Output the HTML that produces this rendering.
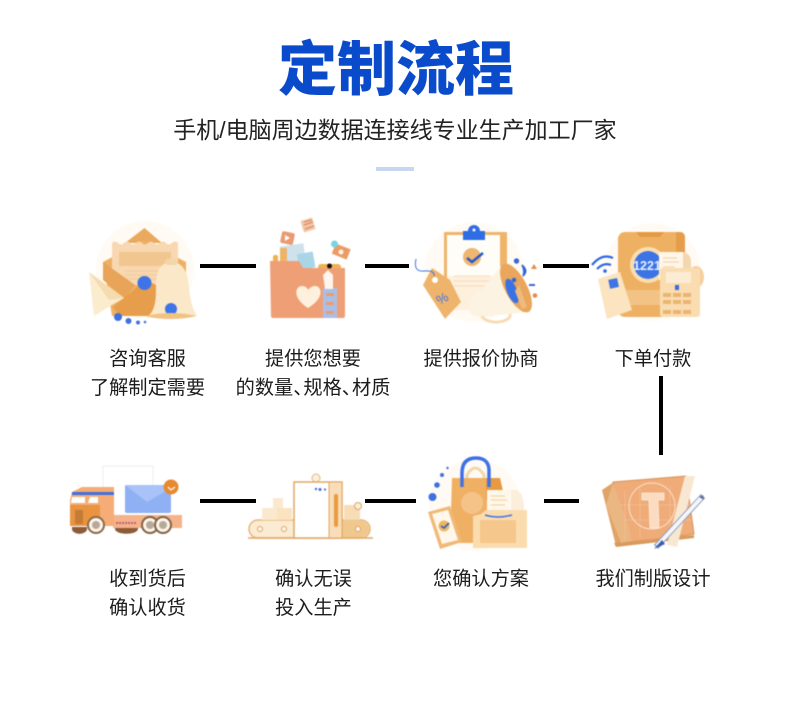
<!DOCTYPE html>
<html lang="zh"><head><meta charset="utf-8"><title>定制流程</title>
<style>
html,body{margin:0;padding:0;background:#fff;width:790px;height:703px;overflow:hidden}
svg{display:block}
text{font-family:"Liberation Sans","Noto Sans CJK SC",sans-serif}
.l{font-size:19.2px;fill:#1c1c1c;text-anchor:middle}
.i{filter:blur(.45px)}
</style></head><body>
<svg width="790" height="703" viewBox="0 0 790 703" xmlns="http://www.w3.org/2000/svg">
<rect width="790" height="703" fill="#fff"/>
<text x="396" y="90" text-anchor="middle" font-size="59" font-weight="900" fill="#0a4bcb">定制流程</text>
<text x="395" y="138" text-anchor="middle" font-size="23" fill="#222">手机/电脑周边数据连接线专业生产加工厂家</text>
<rect x="376" y="167" width="38" height="4" fill="#c8d6ef"/>

<g fill="#000">
<rect x="200" y="264" width="56" height="4"/><rect x="365" y="264" width="44" height="4"/><rect x="543" y="264" width="46" height="4"/>
<rect x="659" y="376" width="4" height="79"/>
<rect x="200" y="499" width="56" height="4"/><rect x="365" y="499" width="51" height="4"/><rect x="544" y="499" width="35" height="4"/>
</g>

<g class="i">
<!-- icon 1 -->
<circle cx="145" cy="270" r="49" fill="#fffbf4"/>
<path d="M125 243L144.500 228 162 243z" fill="#e9a95e"/>
<path d="M103 262L144 240 186 262V300L150 316H112z" fill="#eeb064"/>
<path d="M112 243q3-3 6 0t6 0 6 0 6 0 6 0 6 0 6 0 6 0 6 0 6 0 6 0V285H112z" fill="#f8d8b2"/>
<rect x="119" y="252" width="52" height="14" fill="#f1c78f"/>
<g stroke="#f2cda0" stroke-width="1.500"><path d="M125 271H160M125 275H160M125 279H160"/></g>
<path d="M103 262L135 285 125 298 103 280z" fill="#e8a458"/>
<path d="M113 307L146 280 186 300 150 316H120z" fill="#e69d4c"/>
<circle cx="144.500" cy="283" r="7" fill="#3e74e8"/>
<path d="M89 272L124 298 112 305 94 316z" fill="#fbeccd"/>
<path d="M89 272L124 298 109 300z" fill="#f5dcb0"/>
<path d="M147 317C160 308 154 285 157 275C159 266 165 262 171 262C180 262 186 268 188 280C190 295 191 308 197 315Q172 322 147 317z" fill="#fbe8c8"/>
<rect x="165" y="259" width="13" height="6" rx="3" fill="#f1d6ab"/>
<circle cx="171" cy="309" r="6" fill="#3e74e8"/>
<path d="M145 316Q171 310 197 316Q171 322 145 316Z" fill="#f0c383"/>
<g fill="#3f70df"><circle cx="118" cy="317" r="4"/><circle cx="128.500" cy="321" r="3"/><circle cx="138" cy="322.500" r="2"/><circle cx="145" cy="322" r="1.300"/></g>

<!-- icon 2 -->
<rect x="281" y="232" width="13" height="12" rx="2" fill="#e99b73" transform="rotate(12 287 238)"/>
<path d="M285 235l5 3-5 3z" fill="#fff"/>
<rect x="302" y="219" width="12" height="12" fill="#f2c7a6" transform="rotate(-17 308 225)"/>
<path d="M304 222l8-2M304 225l9-3M305 229l9-3" stroke="#d97f59" stroke-width="1"/>
<rect x="281" y="245" width="24" height="18" fill="#cfe2ec" transform="rotate(-8 292 256)"/>
<rect x="280" y="248" width="7" height="16" fill="#efb463"/>
<rect x="298" y="253" width="16" height="16" fill="#a9d5e7" transform="rotate(-10 305 260)"/>
<rect x="333" y="246" width="16" height="11" fill="#ec9b66" transform="rotate(22 341 252)"/>
<circle cx="341" cy="252" r="2.500" fill="#fff2e4"/>
<circle cx="334.500" cy="244" r="3.500" fill="#7bd3df"/>
<rect x="273" y="255" width="5" height="10" rx="2" fill="#efb24f"/>
<rect x="318" y="264" width="23" height="10" rx="3" fill="#efb24f"/>
<path d="M270 261H299L303 268H345V316Q345 318 343 318H273Q271 318 271 316z" fill="#ef9f76"/>
<path d="M308 308C292 298 295 286 302 286 306 286 308 289 308 290 309 289 311 286 315 286 322 286 325 298 308 308z" fill="#fdf0dd"/>
<rect x="323" y="288" width="14" height="30" fill="#a9bfe8"/>
<rect x="326" y="293" width="8" height="3" fill="#f09a6c"/><rect x="326" y="302" width="8" height="3" fill="#f09a6c"/><rect x="326" y="311" width="8" height="3" fill="#f09a6c"/>
<path d="M323 275L328 270 333 275 333 289H325z" fill="#fdf6ec"/>
<circle cx="329.500" cy="266" r="2.500" fill="#16120f"/>

<!-- icon 3 -->
<circle cx="474" cy="272" r="50" fill="#fffbf4"/>
<rect x="444" y="232" width="63" height="78" fill="#efb46a"/>
<rect x="447" y="235" width="53" height="75" fill="#fffdf8"/>
<rect x="447" y="276" width="53" height="34" fill="#fdf0dd"/>
<path d="M463 240V231H468a6 6 0 0 1 12 0H485V240z" fill="#2f6de4"/>
<circle cx="474" cy="230" r="1.500" fill="#fff"/>
<circle cx="472" cy="257" r="9" fill="#eeb671"/>
<path d="M467 258l5 4 11-9" fill="none" stroke="#2459cf" stroke-width="2.600"/>
<path d="M454 276H490M454 281H490M454 286H485" stroke="#f6dcba"/>
<path d="M432 268L423 285 445 319 461 302 450 280z" fill="#efb46b"/>
<circle cx="435" cy="280" r="3" fill="#fff"/>
<path d="M416 259Q413 272 424 271T434 276" fill="none" stroke="#3e74e8"/>
<text x="442" y="303" font-size="13" fill="#3e74e8" text-anchor="middle" transform="rotate(-28 442 298)">%</text>
<path d="M468 308Q470 295 480 292L502 265 530 312 490 316Q470 320 468 308z" fill="#fdf3e3"/>
<ellipse cx="516" cy="288" rx="11" ry="27" fill="#e9a65c" transform="rotate(-28 516 288)"/>
<ellipse cx="512" cy="291" rx="5" ry="13" fill="#3a72e4" transform="rotate(-22 512 291)"/>
<path d="M519 285l8 22-5 2-7-18z" fill="#edbb7e"/>
<path d="M482 316a14 7 0 0 0 28-2" fill="none" stroke="#f7dcb5" stroke-width="3"/>
<g fill="#3767d4"><circle cx="516.500" cy="261" r="2.700"/><circle cx="514" cy="280" r="2.300"/><path d="M522 265q7 6 1 11q2-5-1-11z" stroke="#3767d4" stroke-width="1.500"/><rect x="529" y="284" width="6" height="2"/></g>
<path d="M534 264l3 5h-6z" fill="#e28f4d"/><circle cx="535" cy="295.500" r="2.300" fill="#e58b4c"/>

<!-- icon 4 -->
<circle cx="652" cy="272" r="49" fill="#fffbf4"/>
<rect x="618" y="232" width="67" height="85" rx="7" fill="#eeb163"/>
<path d="M676 232H680Q685 232 685 238V310H676z" fill="#e69d4a"/>
<path d="M636 232H664L660 237H640z" fill="#e59a42"/>
<path d="M618 290H680V305H618z" fill="#f2c384"/>
<circle cx="648" cy="265" r="18" fill="#fbdeb0"/>
<circle cx="648" cy="265" r="14" fill="#3c74e6"/>
<text x="647" y="270" text-anchor="middle" font-size="12.500" font-weight="700" fill="#e8f0ff">1221</text>
<ellipse cx="696" cy="277" rx="8" ry="11" fill="#f6cf9b"/>
<path d="M682 252a9 9 0 0 1 9 9V272H682z" fill="#f3d7ae"/>
<path d="M659 252H683V280H659z" fill="#fff6e8"/>
<g stroke="#efd0a8"><path d="M663 258H677M663 262H679M663 267H675M663 271H679"/></g>
<rect x="660" y="268" width="40" height="49" rx="3" fill="#f9dcb0"/>
<rect x="666" y="272" width="25" height="11" fill="#fcecd4"/>
<rect x="675" y="285" width="4" height="5" fill="#3c6adb"/>
<g fill="#ebb570"><rect x="663" y="293" width="8" height="4"/><rect x="673" y="293" width="8" height="4"/><rect x="683" y="293" width="8" height="4"/><rect x="663" y="300" width="8" height="4"/><rect x="673" y="300" width="8" height="4"/><rect x="683" y="300" width="8" height="4"/><rect x="663" y="310" width="8" height="4"/><rect x="673" y="310" width="8" height="4"/><rect x="683" y="310" width="8" height="4"/></g>
<path d="M598 279L620 272 632 310 607 319z" fill="#fbe4bf"/>
<rect x="609" y="279" width="9" height="9" fill="#3f74e4" transform="rotate(-12 613 283)"/>
<g fill="none" stroke="#2f68de" stroke-width="2.200"><path d="M592 265Q602 253 613 258"/><path d="M597 269Q604 262 611 265"/></g>
<circle cx="605" cy="271" r="1.800" fill="#2f68de"/>

<!-- icon 5 truck -->
<rect x="103" y="466" width="50" height="42" fill="#fff" stroke="#f2eee8"/>
<rect x="113" y="515" width="69" height="13" fill="#f4b38a"/>
<path d="M82 487H114V526H70V500L72 492z" fill="#f5ac76"/>
<path d="M72 492H114V495H72z" fill="#3f6fe0"/>
<path d="M70 505H100V526H70z" fill="#ea9341"/>
<path d="M72 497H85V503H71z" fill="#fff"/><path d="M90 497H98V503H88z" fill="#fff"/>
<rect x="75" y="510" width="8" height="14" fill="#c47b35"/>
<rect x="114" y="484" width="12" height="31" fill="#fff"/>
<rect x="125" y="485" width="46" height="28" rx="2" fill="#8fb0f3"/>
<path d="M125 485L147 502 171 488V485z" fill="#a9c2f7"/>
<circle cx="171" cy="487" r="7.500" fill="#e78a2f"/>
<path d="M168 487l3 3 4-3" stroke="#fff" fill="none" stroke-width="1.200"/>
<path d="M116 523H137" stroke="#c25f7d" stroke-width="2" stroke-dasharray="2 1"/>
<path d="M72 527h15v2a7 4.500 0 0 1-15 0zM115 528h23v1a11 4.500 0 0 1-23 0z" fill="#8c5b37"/>
<g><circle cx="96" cy="525" r="8" fill="#fff4e8" stroke="#8a6a4a" stroke-width="2"/><circle cx="96" cy="525" r="4" fill="#b5a999"/><circle cx="150" cy="525" r="8" fill="#fff4e8" stroke="#7e6248" stroke-width="2"/><circle cx="150" cy="525" r="4" fill="#b5a999"/><circle cx="163" cy="525" r="8" fill="#fff4e8" stroke="#7e6248" stroke-width="2"/><circle cx="163" cy="525" r="4" fill="#b5a999"/></g>

<!-- icon 6 conveyor -->
<rect x="249" y="520" width="121" height="18" rx="9" fill="#fbebd2" stroke="#e6b67a" stroke-width="1.500"/>
<path d="M342 521H361a8 8 0 0 1 0 16H342z" fill="#f0c88e"/>
<path d="M248 538H373" stroke="#e2a866" stroke-width="1.500"/>
<g fill="#fff8ee" stroke="#dda565"><circle cx="260" cy="529" r="2.500"/><circle cx="284" cy="529" r="2.500"/><circle cx="358" cy="529" r="2.500"/></g>
<rect x="262" y="508" width="15" height="12" fill="#fbe9cf"/><rect x="277" y="508" width="15" height="12" fill="#fbe3bf"/><rect x="273" y="498" width="10" height="10" fill="#fbe9cf"/><rect x="344" y="505" width="16" height="15" fill="#f8dcb5"/>
<circle cx="358" cy="506" r="3.500" fill="#fbeed9" stroke="#dba76a"/>
<circle cx="316" cy="478" r="4" fill="#fbf0de" stroke="#e1bb88"/>
<rect x="294" y="482" width="48" height="56" fill="#fff" stroke="#e2a866" stroke-width="1.500"/>
<rect x="329" y="482" width="13" height="56" fill="#f9dcb8" stroke="#e2a866"/>
<rect x="334" y="494" width="4" height="33" rx="2" fill="#e99b3d"/>
<g fill="#3f70df"><circle cx="316" cy="489" r="1.200"/><circle cx="320" cy="489.500" r="1.500"/><circle cx="325" cy="489.500" r="1.100"/></g>

<!-- icon 7 -->
<circle cx="475" cy="505" r="46" fill="#fffbf4"/>
<path d="M467 498V475Q475 461 484 475V490" fill="none" stroke="#f2d6ad" stroke-width="3"/>
<path d="M452 478H500L505 500V543H450z" fill="#f0b064"/>
<path d="M486 478H500L505 500H486z" fill="#e79a42"/>
<circle cx="472" cy="503" r="11" fill="#f5c388"/>
<path d="M462 487V473Q462 458 476 458T489 473V487" fill="none" stroke="#3f71e6" stroke-width="3.500"/>
<path d="M487 490H510V518H487z" fill="#fff7ea"/><path d="M491 496H505M491 500H507M491 505H505" stroke="#f0cf9d"/>
<path d="M511 490H516Q524 492 524 510H511z" fill="#fbeedb"/>
<path d="M481 514L486 510H527V548H473V516z" fill="#fbdcae"/>
<rect x="480" y="520" width="36" height="23" fill="#f6c78c"/>
<path d="M485 515Q498 519 512 515" stroke="#3f71e6" stroke-width="1.500" fill="none"/>
<path d="M428 512L450 506 462 542 440 549z" fill="#f0b977"/><path d="M432 514L448 510 458 540 442 544z" fill="#fff7ea"/>
<circle cx="444" cy="526" r="5.500" fill="#edb760"/><path d="M441 526l3 2 5-5" fill="none" stroke="#2d5dd0" stroke-width="1.600"/>
<g fill="#3f70df"><circle cx="432.500" cy="497" r="4"/><circle cx="437" cy="485" r="2.800"/><circle cx="442" cy="475" r="2"/><circle cx="447.500" cy="468" r="1.200"/></g>

<!-- icon 8 -->
<path d="M602 490L614 482 631 543 616 546z" fill="#e0a368"/>
<path d="M613 482L686 476 694 534 622 545z" fill="#efab78" stroke="#d99353" stroke-width="1"/>
<path d="M632 541L694 535V538L616 547 614 543z" fill="#d99a5d"/>
<path d="M613 483L628 524 632 541 621 543 606 505z" fill="#eab681"/>
<g stroke="#f4bf95" stroke-width=".7"><path d="M625 490V540M640 488V538M670 486V536M620 505H690M622 520H692"/></g>
<circle cx="652" cy="506" r="23" fill="none" stroke="#f8d8bb" stroke-width="1.200"/>
<path d="M642 493H664V500H658L659 528H650L649 500H642z" fill="#fbdcc0" stroke="#fdf0e0" stroke-width=".8"/>
<path d="M685 476H695L677 547 667 545z" fill="#f8e8d2"/>
<path d="M656 547L703 496" stroke="#8ea0c2" stroke-width="6"/>
<path d="M657 546L702 497" stroke="#f6f6f7" stroke-width="4"/>
<path d="M654 549L662 540 665 544z" fill="#3a5dae"/>
<path d="M699 497L703 495 704 500z" fill="#5a6f9c"/>
</g>

<!-- labels -->
<text class="l" x="147.500" y="365">咨询客服</text>
<text class="l" x="147.500" y="394">了解制定需要</text>
<text class="l" x="313" y="365">提供您想要</text>
<text class="l" x="313" y="394">的数量、<tspan dx="-9">规格、</tspan><tspan dx="-9">材质</tspan></text>
<text class="l" x="481" y="365">提供报价协商</text>
<text class="l" x="653" y="365">下单付款</text>
<text class="l" x="147.500" y="585">收到货后</text>
<text class="l" x="147.500" y="614">确认收货</text>
<text class="l" x="313.500" y="585">确认无误</text>
<text class="l" x="313.500" y="614">投入生产</text>
<text class="l" x="481" y="585">您确认方案</text>
<text class="l" x="653" y="585">我们制版设计</text>
</svg>
</body></html>
